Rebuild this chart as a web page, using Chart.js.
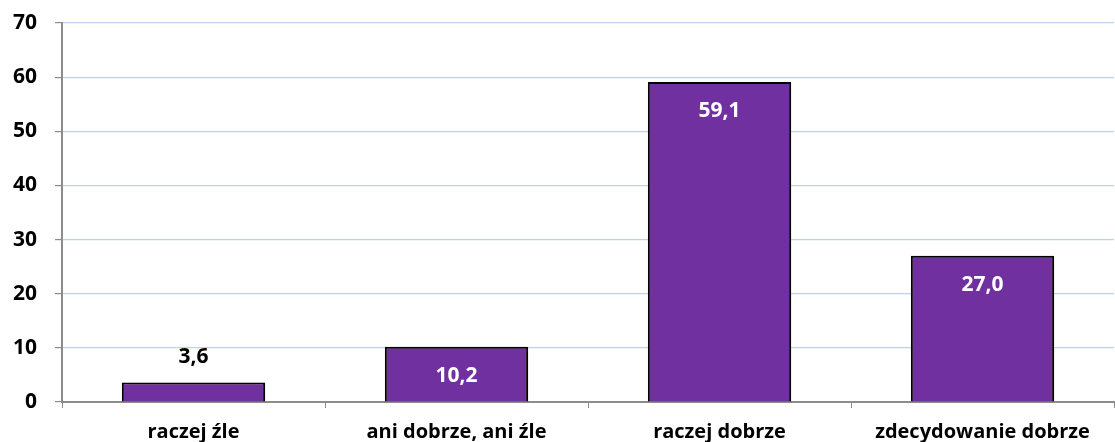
<!DOCTYPE html>
<html>
<head>
<meta charset="utf-8">
<script src="https://cdn.jsdelivr.net/npm/chart.js@4/dist/chart.umd.min.js"></script>
<style>
  html, body { margin: 0; padding: 0; background: #fff; }
  #wrap { width: 1115px; height: 442px; }
</style>
</head>
<body>
<div id="wrap"><canvas id="wykres" width="1115" height="442"></canvas></div>
<script>
// Dane wykresu
const kategorie = ['raczej źle', 'ani dobrze, ani źle', 'raczej dobrze', 'zdecydowanie dobrze'];
const wartosci = [3.6, 10.2, 59.1, 27.0];
const osY = [0, 10, 20, 30, 40, 50, 60, 70];

const czcionka = '"Open Sans", "Noto Sans", sans-serif';

// Cień pod słupkami
const cienSlupkow = {
    id: 'cienSlupkow',
    beforeDatasetsDraw(chart) {
        const ctx = chart.ctx;
        ctx.save();
        ctx.shadowColor = 'rgba(0,0,0,0.35)';
        ctx.shadowBlur = 4;
        ctx.shadowOffsetX = 2;
        ctx.shadowOffsetY = 2;
    },
    afterDatasetsDraw(chart) {
        chart.ctx.restore();
    }
};

// Etykiety wartości (przecinek dziesiętny)
const etykiety = {
    id: 'etykiety',
    afterDatasetsDraw(chart) {
        const ctx = chart.ctx;
        const meta = chart.getDatasetMeta(0);
        ctx.save();
        ctx.font = 'bold 21px ' + czcionka;
        ctx.textAlign = 'center';
        ctx.textBaseline = 'middle';
        meta.data.forEach(function(bar, i) {
            const tekst = wartosci[i].toFixed(1).replace('.', ',');
            if (wartosci[i] < 5) {
                ctx.fillStyle = '#000';
                ctx.fillText(tekst, bar.x, bar.y - 25);
            } else {
                ctx.fillStyle = '#fff';
                ctx.fillText(tekst, bar.x, bar.y + 29);
            }
        });
        ctx.restore();
    }
};

const ctx = document.getElementById('wykres').getContext('2d');
new Chart(ctx, {
    type: 'bar',
    data: {
        labels: kategorie,
        datasets: [{
            data: wartosci,
            backgroundColor: '#7030A0',
            borderColor: '#000',
            borderWidth: 2,
            categoryPercentage: 1,
            barPercentage: 0.545
        }]
    },
    options: {
        responsive: false,
        animation: false,
        layout: { padding: { top: 23, right: 1, left: 0, bottom: 0 } },
        plugins: {
            legend: { display: false },
            tooltip: { enabled: false }
        },
        scales: {
            x: {
                afterFit(axis) { axis.height = 40; },
                grid: {
                    display: true,
                    drawOnChartArea: false,
                    drawTicks: true,
                    tickLength: 6,
                    tickColor: '#8c8c8c',
                    offset: true
                },
                border: { color: '#8c8c8c', width: 2 },
                ticks: {
                    color: '#000',
                    padding: 12,
                    font: { family: czcionka, size: 20, weight: 'bold' }
                }
            },
            y: {
                min: 0,
                max: 70,
                afterFit(axis) {
                    axis.width = 62;
                    axis.paddingTop = 0;
                    axis.paddingBottom = 0;
                },
                afterBuildTicks(axis) {
                    axis.ticks = osY.map(v => ({ value: v }));
                },
                grid: {
                    color: '#bcd3ec',
                    lineWidth: 1.2,
                    tickLength: 7,
                    tickColor: '#8c8c8c'
                },
                border: { color: '#8c8c8c', width: 2 },
                ticks: {
                    color: '#000',
                    padding: 18,
                    font: { family: czcionka, size: 21, weight: 'bold' }
                }
            }
        }
    },
    plugins: [cienSlupkow, etykiety]
});
</script>
</body>
</html>
